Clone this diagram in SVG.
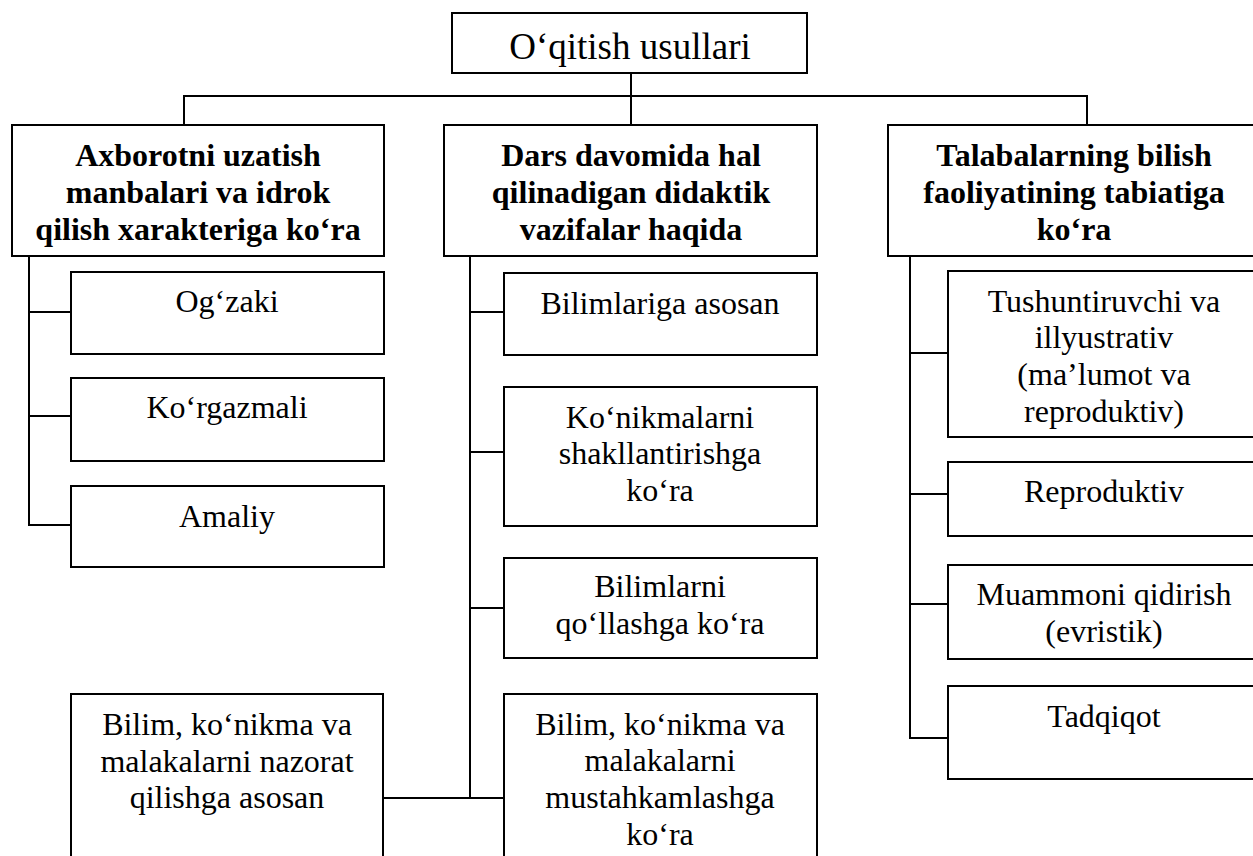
<svg xmlns="http://www.w3.org/2000/svg" width="1253" height="856" viewBox="0 0 1253 856">
<style>
rect{fill:#fff;stroke:#000;stroke-width:2}
.c line{stroke:#000;stroke-width:2}
text{font-family:'Liberation Serif','Times New Roman',serif;font-size:32px;fill:#000;text-anchor:middle}
.b{font-weight:bold}
.t{font-size:37px}
</style>
<rect x="0" y="0" width="1253" height="856" style="stroke:none"/>
<g class="c" id="connectors">
<line x1="631" y1="73" x2="631" y2="125"/>
<line x1="183" y1="96" x2="1088" y2="96"/>
<line x1="184" y1="95" x2="184" y2="125"/>
<line x1="1087" y1="95" x2="1087" y2="125"/>
<line x1="29" y1="256" x2="29" y2="526"/>
<line x1="28" y1="312" x2="71" y2="312"/>
<line x1="28" y1="416" x2="71" y2="416"/>
<line x1="28" y1="525" x2="71" y2="525"/>
<line x1="470" y1="256" x2="470" y2="799"/>
<line x1="469" y1="312" x2="504" y2="312"/>
<line x1="469" y1="452" x2="504" y2="452"/>
<line x1="469" y1="608" x2="504" y2="608"/>
<line x1="383" y1="798" x2="504" y2="798"/>
<line x1="910" y1="256" x2="910" y2="739"/>
<line x1="909" y1="353" x2="948" y2="353"/>
<line x1="909" y1="494" x2="948" y2="494"/>
<line x1="909" y1="604" x2="948" y2="604"/>
<line x1="909" y1="738" x2="948" y2="738"/>
</g>
<g id="root"><rect x="452" y="13" width="355" height="60"/><text class="t" x="630" y="59">O‘qitish usullari</text></g>
<g id="h1"><rect x="12" y="125" width="372" height="131"/><text class="b" x="198" y="166">Axborotni uzatish</text><text class="b" x="198" y="203">manbalari va idrok</text><text class="b" x="198" y="240">qilish xarakteriga ko‘ra</text></g>
<g id="h2"><rect x="444" y="125" width="373" height="131"/><text class="b" x="631" y="166">Dars davomida hal</text><text class="b" x="631" y="203">qilinadigan didaktik</text><text class="b" x="631" y="240">vazifalar haqida</text></g>
<g id="h3"><rect x="888" y="125" width="372" height="131"/><text class="b" x="1074" y="166">Talabalarning bilish</text><text class="b" x="1074" y="203">faoliyatining tabiatiga</text><text class="b" x="1074" y="240">ko‘ra</text></g>
<g id="l1"><rect x="71" y="272" width="313" height="82"/><text x="227" y="312">Og‘zaki</text></g>
<g id="l2"><rect x="71" y="378" width="313" height="83"/><text x="227" y="418">Ko‘rgazmali</text></g>
<g id="l3"><rect x="71" y="486" width="313" height="81"/><text x="227" y="527">Amaliy</text></g>
<g id="l4"><rect x="71" y="694" width="312" height="172"/><text x="227" y="735">Bilim, ko‘nikma va</text><text x="227" y="772">malakalarni nazorat</text><text x="227" y="808">qilishga asosan</text></g>
<g id="m1"><rect x="504" y="273" width="313" height="82"/><text x="660" y="314">Bilimlariga asosan</text></g>
<g id="m2"><rect x="504" y="387" width="313" height="139"/><text x="660" y="428">Ko‘nikmalarni</text><text x="660" y="464">shakllantirishga</text><text x="660" y="501">ko‘ra</text></g>
<g id="m3"><rect x="504" y="558" width="313" height="100"/><text x="660" y="597">Bilimlarni</text><text x="660" y="634">qo‘llashga ko‘ra</text></g>
<g id="m4"><rect x="504" y="694" width="313" height="172"/><text x="660" y="735">Bilim, ko‘nikma va</text><text x="660" y="771">malakalarni</text><text x="660" y="808">mustahkamlashga</text><text x="660" y="845">ko‘ra</text></g>
<g id="r1"><rect x="948" y="271" width="312" height="166"/><text x="1104" y="312">Tushuntiruvchi va</text><text x="1104" y="348">illyustrativ</text><text x="1104" y="385">(ma’lumot va</text><text x="1104" y="422">reproduktiv)</text></g>
<g id="r2"><rect x="948" y="462" width="312" height="74"/><text x="1104" y="502">Reproduktiv</text></g>
<g id="r3"><rect x="948" y="565" width="312" height="94"/><text x="1104" y="605">Muammoni qidirish</text><text x="1104" y="642">(evristik)</text></g>
<g id="r4"><rect x="948" y="686" width="312" height="93"/><text x="1104" y="727">Tadqiqot</text></g>
</svg>
